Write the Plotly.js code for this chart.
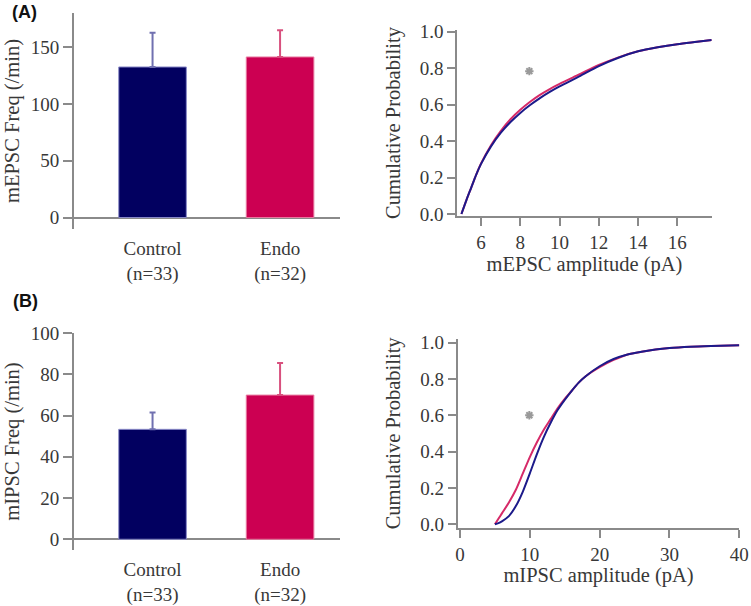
<!DOCTYPE html>
<html>
<head>
<meta charset="utf-8">
<script src="https://cdn.plot.ly/plotly-3.0.1.min.js"></script>
<style>html,body{margin:0;padding:0;background:#fff}#chart{width:751px;height:606px}</style>
</head>
<body>
<div id="chart"></div>
<script>
// ---- data ----
const categories = ["Control<br>(n=33)", "Endo<br>(n=32)"];
const mepscFreq = [132.5, 141.3];
const mepscFreqErr = [30.2, 23.5];
const mipscFreq = [53.3, 69.9];
const mipscFreqErr = [8.2, 15.5];

const mepscAmpX = [5.0, 5.25, 5.5, 5.75, 6, 6.5, 7, 7.5, 8, 8.5, 9, 9.5, 10, 11, 12, 13, 14, 15, 16, 17, 17.75];
const mepscCdfControl = [0, 0.075, 0.145, 0.215, 0.275, 0.37, 0.445, 0.505, 0.555, 0.598, 0.636, 0.67, 0.70, 0.755, 0.812, 0.858, 0.893, 0.915, 0.932, 0.945, 0.955];
const mepscCdfEndo    = [0, 0.075, 0.145, 0.215, 0.277, 0.376, 0.455, 0.52, 0.572, 0.616, 0.654, 0.686, 0.714, 0.766, 0.818, 0.86, 0.893, 0.915, 0.932, 0.945, 0.955];

const mipscAmpX = [5, 5.5, 6, 7, 8, 9, 10, 11, 12, 13, 14, 15, 16, 17, 18, 20, 22, 24, 26, 28, 30, 33, 36, 40];
const mipscCdfControl = [0, 0.006, 0.016, 0.045, 0.10, 0.18, 0.28, 0.385, 0.48, 0.56, 0.63, 0.685, 0.735, 0.78, 0.815, 0.87, 0.91, 0.935, 0.95, 0.962, 0.97, 0.977, 0.981, 0.985];
const mipscCdfEndo    = [0, 0.03, 0.06, 0.12, 0.19, 0.28, 0.37, 0.45, 0.52, 0.58, 0.64, 0.69, 0.735, 0.78, 0.815, 0.865, 0.905, 0.935, 0.95, 0.962, 0.97, 0.977, 0.981, 0.985];

const sigA = {x: [8.46], y: [0.784]};
const sigB = {x: [9.93], y: [0.60]};

// ---- style ----
const barColors = ["#020060", "#cc0052"];
const barLines = ["#8a8ac8", "#e87aa0"];
const errColors = ["#7070b0", "#d8507e"];
const lineColors = ["#1c1a8a", "#d62a68"];
const axisGray = "#8a8a8a";
const serif = "Liberation Serif, Times New Roman, serif";
const textCol = "#383838";

const traces = [];
function addBars(xa, ya, vals, errs) {
  for (let i = 0; i < categories.length; i++) {
    traces.push({
      type: "bar", x: [categories[i]], y: [vals[i]], xaxis: xa, yaxis: ya,
      width: 0.53,
      marker: {color: barColors[i], line: {color: barLines[i], width: 1}},
      error_y: {type: "data", symmetric: false, array: [errs[i]], arrayminus: [0],
                color: errColors[i], thickness: 2, width: 3},
      hoverinfo: "skip", showlegend: false
    });
  }
}
addBars("x", "y", mepscFreq, mepscFreqErr);
addBars("x3", "y3", mipscFreq, mipscFreqErr);

function addCdf(xa, ya, xs, ctrl, endo, sig) {
  traces.push({type: "scatter", mode: "lines", x: xs, y: endo, xaxis: xa, yaxis: ya,
    line: {color: lineColors[1], width: 2, shape: "spline", smoothing: 0.8}, showlegend: false, hoverinfo: "skip"});
  traces.push({type: "scatter", mode: "lines", x: xs, y: ctrl, xaxis: xa, yaxis: ya,
    line: {color: lineColors[0], width: 2, shape: "spline", smoothing: 0.8}, showlegend: false, hoverinfo: "skip"});
  traces.push({type: "scatter", mode: "markers", x: sig.x, y: sig.y, xaxis: xa, yaxis: ya,
    marker: {symbol: "asterisk-open", size: 7, color: "#9a9a9a", line: {color: "#9a9a9a", width: 2}},
    showlegend: false, hoverinfo: "skip"});
}
addCdf("x2", "y2", mepscAmpX, mepscCdfControl, mepscCdfEndo, sigA);
addCdf("x4", "y4", mipscAmpX, mipscCdfControl, mipscCdfEndo, sigB);

const W = 751, H = 606;
const dx = (a, b) => [a / W, b / W];
const dy = (bottom, top) => [(H - bottom) / H, (H - top) / H];
const tickFont = {family: serif, size: 19, color: textCol};
const titleFont = {family: serif, size: 20.5, color: textCol};

function barY(range, dtick, title, dom, xa) {
  return {domain: dom, range: range, anchor: xa, dtick: dtick, tick0: 0,
    showline: true, linecolor: axisGray, linewidth: 2,
    ticks: "outside", ticklen: 9, tickwidth: 2, tickcolor: axisGray,
    showgrid: false, zeroline: true, zerolinecolor: axisGray, zerolinewidth: 2,
    tickfont: tickFont, title: {text: title, font: titleFont, standoff: 6}, automargin: false, fixedrange: true};
}
function barX(dom, ya) {
  return {domain: dom, anchor: ya, range: [-0.616, 1.47], type: "category",
    showline: false, ticks: "", showgrid: false, zeroline: false,
    tickfont: tickFont, ticklabelstandoff: 6, automargin: false, fixedrange: true};
}
function cdfX(dom, ya, range, dtick, tick0, title) {
  return {domain: dom, anchor: ya, range: range, dtick: dtick, tick0: tick0,
    showline: true, linecolor: axisGray, linewidth: 2,
    ticks: "outside", ticklen: 8, tickwidth: 2, tickcolor: axisGray,
    showgrid: false, zeroline: false, tickfont: tickFont,
    title: {text: title, font: titleFont, standoff: 4}, automargin: false, fixedrange: true};
}
function cdfY(dom, xa, range) {
  return {domain: dom, anchor: xa, range: range, dtick: 0.2, tick0: 0, tickformat: ".1f",
    showline: true, linecolor: axisGray, linewidth: 2,
    ticks: "outside", ticklen: 8, tickwidth: 2, tickcolor: axisGray,
    showgrid: false, zeroline: false, tickfont: tickFont,
    title: {text: "Cumulative Probability", font: titleFont, standoff: 14}, automargin: false, fixedrange: true};
}

const layout = {
  width: W, height: H, margin: {l: 0, r: 0, t: 0, b: 0},
  paper_bgcolor: "#fff", plot_bgcolor: "#fff", showlegend: false, barmode: "overlay",
  xaxis: barX(dx(74, 340), "y"),
  yaxis: barY([-10.1, 180], 50, "mEPSC Freq (/min)", dy(229, 13), "x"),
  xaxis2: cdfX(dx(457.3, 711.7), "y2", [4.79, 17.75], 2, 0, "mEPSC amplitude (pA)"),
  yaxis2: cdfY(dy(216, 30), "x2", [-0.011, 1.01]),
  xaxis3: barX(dx(74, 340), "y3"),
  yaxis3: barY([-5.2, 100], 20, "mIPSC Freq (/min)", dy(550, 333), "x3"),
  xaxis4: cdfX(dx(457.7, 739.3), "y4", [-0.33, 40], 10, 0, "mIPSC amplitude (pA)"),
  yaxis4: cdfY(dy(527.7, 339), "x4", [-0.019, 1.02]),
  annotations: [
    {text: "<b>(A)</b>", xref: "paper", yref: "paper", x: 10 / W, y: (H - 12) / H,
     xanchor: "left", yanchor: "middle", showarrow: false,
     font: {family: "Liberation Sans, Arial, sans-serif", size: 18, color: "#111"}},
    {text: "<b>(B)</b>", xref: "paper", yref: "paper", x: 11 / W, y: (H - 300.5) / H,
     xanchor: "left", yanchor: "middle", showarrow: false,
     font: {family: "Liberation Sans, Arial, sans-serif", size: 18, color: "#111"}}
  ]
};

Plotly.newPlot("chart", traces, layout, {staticPlot: true, displayModeBar: false});
</script>
</body>
</html>
